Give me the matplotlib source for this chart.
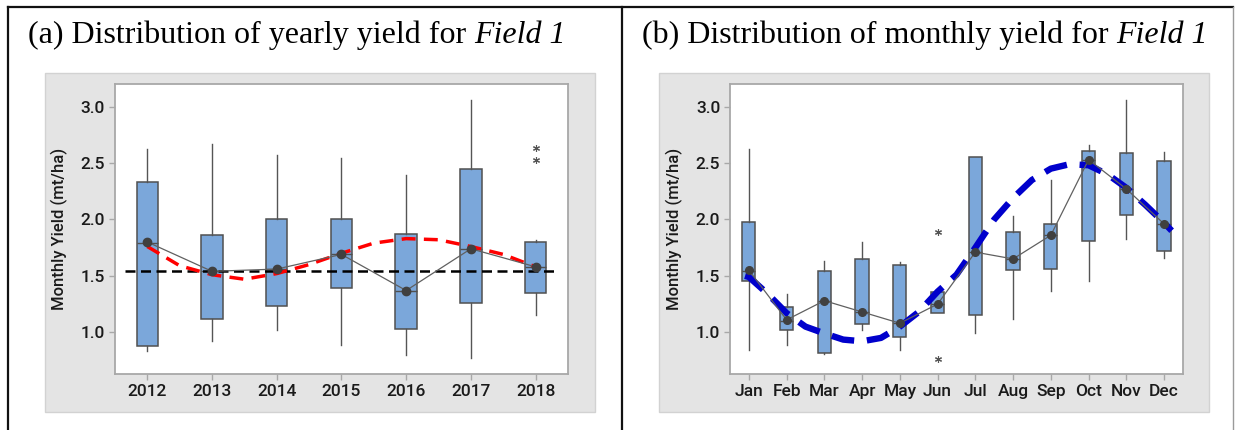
import numpy as np
import matplotlib
matplotlib.use("Agg")
import matplotlib.pyplot as plt
from matplotlib.patches import Rectangle
from matplotlib.lines import Line2D

plt.rcParams['font.family'] = ['Roboto', 'DejaVu Sans']

# (a) yearly yield, Field 1
years = ['2012', '2013', '2014', '2015', '2016', '2017', '2018']
y_q1 = [0.88, 1.12, 1.23, 1.39, 1.03, 1.26, 1.35]
y_q3 = [2.33, 1.86, 2.00, 2.00, 1.87, 2.45, 1.80]
y_med = [1.79, 1.54, 1.56, 1.69, 1.37, 1.74, 1.58]
y_lo = [0.83, 0.92, 1.02, 0.89, 0.80, 0.77, 1.15]
y_hi = [2.62, 2.67, 2.57, 2.54, 2.39, 3.06, 1.82]
y_mean = [1.80, 1.54, 1.56, 1.69, 1.37, 1.74, 1.58]
y_out = [[], [], [], [], [], [], [2.53, 2.63]]
overall_mean = 1.54
# red trend curve, read every half year
red_x = [0, 0.5, 1, 1.5, 2, 2.5, 3, 3.5, 4, 4.5, 5, 5.5, 6]
red_y = [1.76, 1.59, 1.51, 1.47, 1.52, 1.60, 1.70, 1.79, 1.83, 1.82, 1.76, 1.69, 1.58]

# (b) monthly yield, Field 1
months = ['Jan', 'Feb', 'Mar', 'Apr', 'May', 'Jun', 'Jul', 'Aug', 'Sep', 'Oct', 'Nov', 'Dec']
m_q1 = [1.45, 1.02, 0.82, 1.07, 0.96, 1.17, 1.15, 1.55, 1.56, 1.81, 2.04, 1.72]
m_q3 = [1.98, 1.22, 1.54, 1.65, 1.60, 1.36, 2.55, 1.89, 1.96, 2.61, 2.59, 2.52]
m_med = [1.54, 1.10, 1.28, 1.18, 1.08, 1.25, 1.71, 1.65, 1.86, 2.53, 2.27, 1.96]
m_lo = [0.84, 0.89, 0.81, 1.02, 0.84, 1.17, 0.99, 1.12, 1.37, 1.45, 1.83, 1.66]
m_hi = [2.62, 1.34, 1.63, 1.80, 1.62, 1.36, 2.55, 2.03, 2.35, 2.66, 3.06, 2.60]
m_mean = [1.55, 1.11, 1.28, 1.18, 1.08, 1.25, 1.71, 1.65, 1.86, 2.53, 2.27, 1.96]
m_out = [[], [], [], [], [], [0.76, 1.89], [], [], [], [], [], []]
# blue seasonal curve, read every half month
blue_x = [-0.1, 0, 0.5, 1, 1.5, 2, 2.5, 3, 3.5, 4, 4.5, 5, 5.5, 6, 6.5, 7, 7.5, 8,
          8.5, 9, 9.5, 10, 10.5, 11, 11.2]
blue_y = [1.50, 1.49, 1.34, 1.17, 1.05, 0.99, 0.935, 0.92, 0.95, 1.05, 1.18, 1.36, 1.51,
          1.75, 2.00, 2.19, 2.35, 2.45, 2.49, 2.48, 2.40, 2.28, 2.13, 1.97, 1.90]

BOX = '#7BA7DA'
EDGE = '#505050'
DOT = '#404040'


def draw_panel(ax, labels, q1, q3, med, lo, hi, mean, out, width, msize):
    stats = []
    for i in range(len(labels)):
        stats.append(dict(q1=q1[i], q3=q3[i], med=med[i], whislo=lo[i],
                          whishi=hi[i], fliers=out[i], mean=mean[i]))
    pos = np.arange(len(labels))
    ax.bxp(stats, positions=pos, widths=width, patch_artist=True, showcaps=False,
           boxprops=dict(facecolor=BOX, edgecolor=EDGE, linewidth=1.1),
           medianprops=dict(color=EDGE, linewidth=1.0),
           whiskerprops=dict(color='#555555', linewidth=1.0),
           flierprops=dict(marker=(6, 2, 0), markersize=5, markeredgecolor='#555555',
                           markeredgewidth=0.8, linestyle='none'),
           zorder=2)
    ax.plot(pos, mean, color='#606060', linewidth=0.9, marker='o', markersize=msize,
            markerfacecolor=DOT, markeredgecolor=DOT, zorder=6)
    ax.set_xticks(pos)
    ax.set_xticklabels(labels)
    ax.set_xlim(-0.5, len(labels) - 0.5)
    ax.set_ylim(0.63, 3.2)
    ax.set_yticks([1.0, 1.5, 2.0, 2.5, 3.0])
    ax.set_yticklabels(['1.0', '1.5', '2.0', '2.5', '3.0'])
    for s in ax.spines.values():
        s.set_color('#a8a8a8')
        s.set_linewidth(1.3)
    ax.tick_params(length=4, width=1, color='#a8a8a8', labelsize=12.5, pad=3,
                   labelcolor='#1a1a1a')
    for t in ax.get_xticklabels() + ax.get_yticklabels():
        t.set_fontweight('medium')
    ax.set_ylabel('Monthly Yield (mt/ha)', fontsize=12, fontweight='medium',
                  color='#1a1a1a')
    ax.yaxis.set_label_coords(-0.104, 0.5)


fig = plt.figure(figsize=(12.36, 4.30), dpi=100)

# gray Minitab panels
for x0 in [0.0364, 0.5332]:
    fig.patches.append(Rectangle((x0, 0.0419), 0.4446, 0.7884, transform=fig.transFigure,
                                 facecolor='#e4e4e4', edgecolor='#d2d2d2', linewidth=1.0,
                                 zorder=-5))

# table frame
fig.add_artist(Line2D([0.0065, 0.9976], [0.9837, 0.9837], color='#111111', linewidth=1.6))
fig.add_artist(Line2D([0.0065, 0.0065], [0, 0.9837], color='#111111', linewidth=1.6))
fig.add_artist(Line2D([0.5032, 0.5032], [0, 0.9837], color='#111111', linewidth=1.6))
fig.add_artist(Line2D([0.9976, 0.9976], [0, 0.9837], color='#9a9a9a', linewidth=1.0))

# panel titles: roman part followed by italic "Field 1"
renderer = fig.canvas.get_renderer()
for x0, txt in [(0.0227, '(a) Distribution of yearly yield for '),
                (0.5194, '(b) Distribution of monthly yield for ')]:
    t = fig.text(x0, 0.900, txt, fontsize=23, family='Liberation Serif',
                 va='baseline', ha='left')
    bb = t.get_window_extent(renderer=renderer)
    fig.text(bb.x1 / fig.bbox.width, 0.900, 'Field 1', fontsize=23,
             family='Liberation Serif', style='italic', va='baseline', ha='left')

ax1 = fig.add_axes([0.0930, 0.1302, 0.3665, 0.6744])
draw_panel(ax1, years, y_q1, y_q3, y_med, y_lo, y_hi, y_mean, y_out, 0.33, 6)
ax1.axhline(overall_mean, xmin=0.16 / 7, xmax=6.85 / 7, color='black', linewidth=1.8,
            linestyle=(0, (4, 2.2)), zorder=4)
ax1.plot(red_x, red_y, color='#ff0000', linewidth=2.5, linestyle=(0, (4, 2.4)), zorder=5)

ax2 = fig.add_axes([0.5906, 0.1302, 0.3665, 0.6744])
draw_panel(ax2, months, m_q1, m_q3, m_med, m_lo, m_hi, m_mean, m_out, 0.35, 5.5)
ax2.plot(blue_x, blue_y, color='#0000cc', linewidth=4.6, linestyle=(0, (3.6, 2.0)), zorder=5)

fig.savefig('out.png', dpi=100)
